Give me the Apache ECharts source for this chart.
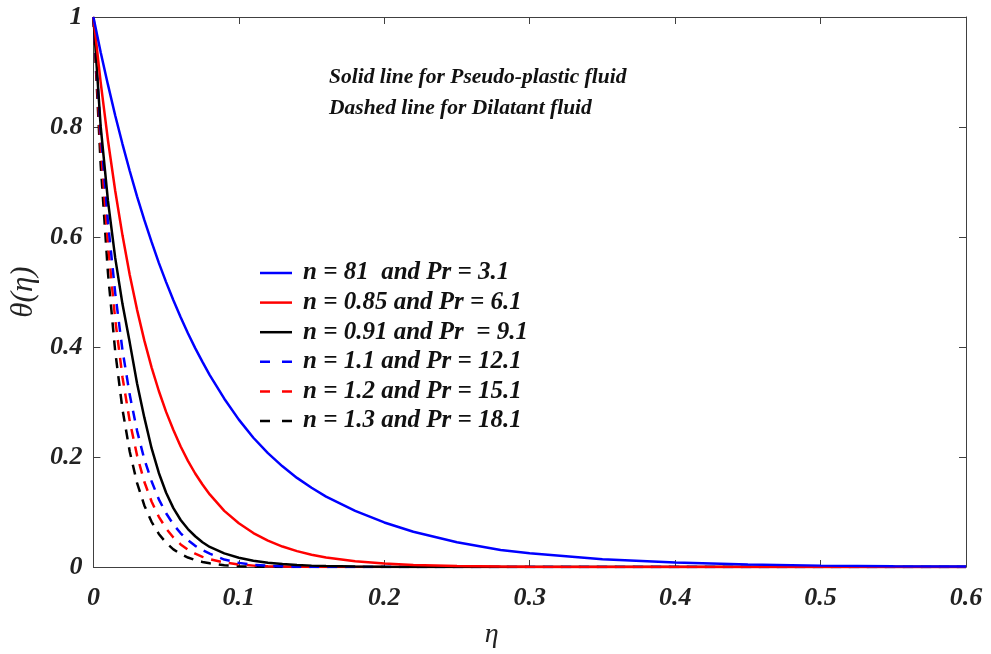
<!DOCTYPE html>
<html>
<head>
<meta charset="utf-8">
<script src="https://cdn.jsdelivr.net/npm/echarts@6/dist/echarts.min.js"></script>
<style>html,body{margin:0;padding:0;background:#fff;}#c{width:991px;height:654px;}</style>
</head>
<body>
<div id="c"></div>
<script>
const eta = [0,0.005,0.01,0.015,0.02,0.025,0.03,0.035,0.04,0.045,0.05,0.055,0.06,0.065,0.07,0.075,0.08,0.09,0.10,0.11,0.12,0.13,0.14,0.15,0.16,0.18,0.20,0.22,0.25,0.28,0.30,0.35,0.40,0.45,0.50,0.55,0.60];
const blueSolid = [1,0.936,0.877,0.821,0.769,0.720,0.674,0.631,0.591,0.553,0.518,0.485,0.454,0.425,0.398,0.373,0.349,0.306,0.268,0.235,0.207,0.183,0.162,0.144,0.128,0.102,0.081,0.064,0.045,0.031,0.025,0.014,0.008,0.0045,0.0025,0.0014,0.0008];
const redSolid = [1,0.881,0.776,0.684,0.603,0.531,0.468,0.412,0.363,0.320,0.282,0.249,0.219,0.193,0.170,0.150,0.132,0.102,0.0795,0.0617,0.0479,0.0372,0.0289,0.0224,0.0174,0.0105,0.0063,0.0038,0.0018,0.0008,0.0005,0.0001,0,0,0,0,0];
const blackSolid = [1,0.801,0.666,0.562,0.478,0.408,0.334,0.272,0.216,0.171,0.135,0.107,0.0855,0.069,0.0559,0.0451,0.0365,0.0248,0.0169,0.0115,0.0079,0.0054,0.0037,0.0025,0.0017,0.0008,0.0004,0.0002,0,0,0,0,0,0,0,0,0];
const blueDash = [1,0.792,0.628,0.498,0.394,0.313,0.248,0.196,0.156,0.123,0.0977,0.0774,0.0613,0.0486,0.0385,0.0306,0.0242,0.0135,0.0075,0.004,0.0022,0.0012,0.0006,0.0003,0.0001,0,0,0,0,0,0,0,0,0,0,0,0];
const redDash = [1,0.766,0.587,0.450,0.345,0.265,0.203,0.155,0.119,0.0913,0.0700,0.0536,0.0411,0.0315,0.0242,0.0185,0.0142,0.0083,0.0045,0.0025,0.0013,0.0007,0.0003,0.0001,0,0,0,0,0,0,0,0,0,0,0,0,0];
const blackDash = [1,0.732,0.535,0.392,0.2865,0.2096,0.153,0.112,0.0821,0.0601,0.0439,0.0321,0.0235,0.0172,0.0126,0.0092,0.0067,0.003,0.0015,0.0007,0.0003,0.0001,0,0,0,0,0,0,0,0,0,0,0,0,0,0,0];
const seriesNames = ['n = 81  and Pr = 3.1','n = 0.85 and Pr = 6.1','n = 0.91 and Pr  = 9.1','n = 1.1 and Pr = 12.1','n = 1.2 and Pr = 15.1','n = 1.3 and Pr = 18.1'];
const annotations = ['Solid line for Pseudo-plastic fluid','Dashed line for Dilatant fluid'];

const FONT = "'Liberation Serif','Times New Roman',serif";
const values = [blueSolid, redSolid, blackSolid, blueDash, redDash, blackDash];
const colors = ['#0000ff','#ff0000','#000000','#0000ff','#ff0000','#000000'];
const types = ['solid','solid','solid',[10,8],[10,8],[10,8]];

const series = values.map((v,i)=>({
  name: seriesNames[i],
  type: 'line',
  data: eta.map((x,j)=>[x, v[j]]),
  symbol: 'none',
  smooth: false,
  clip: true,
  lineStyle: {color: colors[i], width: 2.5, type: types[i]},
  itemStyle: {color: colors[i]},
  z: 10 - i
}));

// legend drawn as graphic (line sample + text)
const legendGraphics = [];
seriesNames.forEach((name,i)=>{
  const y = 273 + i*29.6;
  legendGraphics.push({
    type:'line', shape:{x1:260, y1:y, x2:292, y2:y},
    style:{stroke:colors[i], lineWidth:2.5, lineDash: Array.isArray(types[i]) ? [10,12] : null}
  });
  legendGraphics.push({
    type:'text', x:303, y:y,
    style:{text:name, fontFamily:FONT, fontStyle:'italic', fontWeight:'bold', fontSize:25, fill:'#111', textVerticalAlign:'middle', verticalAlign:'middle'}
  });
});
annotations.forEach((t,i)=>{
  legendGraphics.push({
    type:'text', left: 329, top: 66 + i*31,
    style:{text:t, fontFamily:FONT, fontStyle:'italic', fontWeight:'bold', fontSize:21.5, fill:'#111'}
  });
});

const chart = echarts.init(document.getElementById('c'), null, {renderer:'canvas'});
const axisCommon = {
  axisLine: {show: true, onZero: false, lineStyle: {color: '#404040', width: 1}},
  axisTick: {show: true, inside: true, length: 7, lineStyle: {color: '#404040'}},
  splitLine: {show: false}
};
chart.setOption({
  animation: false,
  backgroundColor: '#fff',
  grid: {left: 91, right: 25, top: 17, bottom: 86, containLabel: false},
  xAxis: [
    Object.assign({type:'value', min:0, max:0.6, interval:0.1, position:'bottom',
      name:'η', nameLocation:'middle', nameGap: 54,
      nameTextStyle:{fontFamily:FONT, fontStyle:'italic', fontSize:28, color:'#222', padding:[0,76,0,0]},
      axisLabel:{fontFamily:FONT, fontStyle:'italic', fontWeight:'bold', fontSize:26, color:'#222', margin:18}
    }, axisCommon),
    Object.assign({type:'value', min:0, max:0.6, interval:0.1, position:'top', axisLabel:{show:false}}, axisCommon)
  ],
  yAxis: [
    Object.assign({type:'value', min:0, max:1, interval:0.2, position:'left',
      name:'θ(η)', nameLocation:'middle', nameGap: 47, nameRotate: 90,
      nameTextStyle:{fontFamily:FONT, fontStyle:'italic', fontSize:31, color:'#222'},
      axisLabel:{fontFamily:FONT, fontStyle:'italic', fontWeight:'bold', fontSize:26, color:'#222', margin:11}
    }, axisCommon),
    Object.assign({type:'value', min:0, max:1, interval:0.2, position:'right', axisLabel:{show:false}}, axisCommon)
  ],
  graphic: legendGraphics,
  series: series
});
</script>
</body>
</html>
